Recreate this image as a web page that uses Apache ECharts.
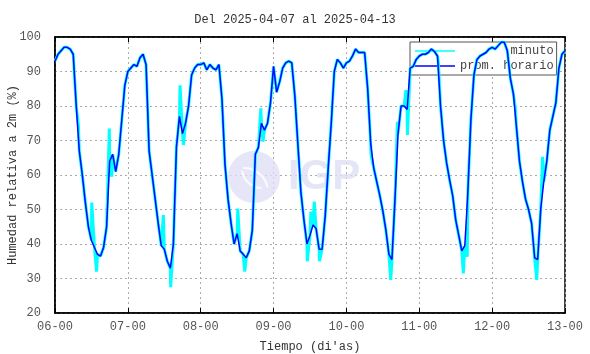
<!DOCTYPE html>
<html>
<head>
<meta charset="utf-8">
<script src="https://cdn.jsdelivr.net/npm/echarts@6/dist/echarts.min.js"></script>
<style>
html, body { margin: 0; padding: 0; background: #fff; }
#chart { width: 590px; height: 354px; }
</style>
</head>
<body>
<div id="chart"></div>
<script>
// etiquetas del eje x (dia-hora)
var dias = ['06-00', '07-00', '08-00', '09-00', '10-00', '11-00', '12-00', '13-00'];

// promedio horario de humedad relativa (%), una lectura por hora desde 06-00
var horario_d1 = [93, 95, 96, 97, 97, 96.5, 95, 80, 67, 60, 52, 45, 41, 39, 37, 36.5, 39, 45, 64, 66, 61, 66, 76, 86];
var horario_d2 = [90, 91, 92, 91.5, 94, 95, 92, 67, 60, 53, 46, 39.5, 38.5, 35, 33, 40, 68, 77, 72, 75, 80, 89, 91, 92];
var horario_d3 = [92, 92.5, 90.5, 92, 91, 90.5, 92, 82, 63, 53, 46, 40, 43, 38, 37, 36, 38, 44, 66, 68, 75, 73, 75, 81];
var horario_d4 = [91.5, 84, 87, 91, 92.5, 93, 92.5, 83, 69, 55, 47, 40, 42.5, 45.5, 44.5, 38.5, 38.5, 48, 62, 75, 90, 93.5, 92.5, 91];
var horario_d5 = [92.5, 93, 94.5, 96.5, 95.5, 95.5, 95.5, 85, 69, 62, 58, 54, 49.5, 44, 37, 35.5, 53, 72, 80, 80, 79, 91, 91.5, 93.5];
var horario_d6 = [94.5, 95, 95, 95.5, 96.5, 95.8, 94.5, 80, 70, 63.5, 58.5, 54, 47, 42.5, 38, 39.5, 55, 76, 89, 93.5, 94.5, 95, 95.5, 96.5];
var horario_d7 = [97, 96.5, 97.5, 98.5, 98.5, 96, 88, 83.5, 74, 64, 58, 53, 50, 46, 36, 35.5, 50, 58, 64, 73, 77, 81, 91, 95, 96];

// picos visibles de la serie por minuto: [hora desde 06-00, valor]
var minuto_picos = [
    [7.7, 74.5], [12.1, 52], [13.7, 32], [17.9, 73.5], [18.7, 59.5],
    [35.7, 48.4], [38.1, 27.5], [41.2, 86], [42.3, 68.7],
    [60.2, 50.3], [62.5, 32], [67.8, 79.3], [68.5, 69.7],
    [83.1, 35], [84.3, 49.4], [85.4, 52.3], [87.1, 35],
    [104.1, 65.8], [110.6, 29.6], [112.8, 75.4], [115.6, 84.6], [116.1, 71.6],
    [126.3, 92.4], [134.5, 31.5], [135.8, 36.3], [151.6, 79.8], [158.7, 29.6], [160.6, 65.3]
];

var horario_todo = [].concat(horario_d1, horario_d2, horario_d3, horario_d4, horario_d5, horario_d6, horario_d7);

var serie_horaria = [];
for (var i = 0; i < horario_todo.length; i++) {
    serie_horaria.push([i, horario_todo[i]]);
}
var serie_minuto = serie_horaria.concat(minuto_picos).sort(function (a, b) { return a[0] - b[0]; });

var fuente = 'Liberation Mono, DejaVu Sans Mono, monospace';

var option = {
    animation: false,
    title: {
        text: 'Del 2025-04-07 al 2025-04-13',
        left: 'center',
        top: 9,
        textStyle: { fontFamily: fuente, fontSize: 12, fontWeight: 'normal', color: '#333' }
    },
    grid: {
        left: 55, right: 25, top: 37, bottom: 41,
        outerBoundsMode: 'none',
        show: true, borderColor: '#000', borderWidth: 1.5
    },
    legend: {
        left: 410, top: 42,
        orient: 'vertical',
        z: 1,
        padding: [3, 3, 3, 5],
        itemGap: 3,
        itemWidth: 40, itemHeight: 1.5,
        icon: 'rect',
        backgroundColor: '#fff',
        borderColor: '#555', borderWidth: 1,
        textStyle: { fontFamily: fuente, fontSize: 12, color: '#444' },
        formatter: function (name) { return name === 'minuto' ? '       minuto' : name; },
        data: ['minuto', 'prom. horario']
    },
    graphic: [
        { type: 'circle', z: 1, shape: { cx: 254, cy: 177, r: 26 }, style: { fill: 'rgba(222,222,246,0.75)' } },
        { type: 'arc', z: 1, shape: { cx: 244, cy: 192, r: 24, startAngle: -1.6, endAngle: -0.2 }, style: { stroke: 'rgba(255,255,255,0.85)', lineWidth: 2, fill: 'none' } },
        { type: 'arc', z: 1, shape: { cx: 262, cy: 168, r: 20, startAngle: 1.6, endAngle: 3.0 }, style: { stroke: 'rgba(255,255,255,0.85)', lineWidth: 2, fill: 'none' } },
        { type: 'text', z: 1, left: 288, top: 156, style: { text: 'IGP', font: 'bold 42px Liberation Sans, Arial', fill: 'rgba(222,222,246,0.8)' } }
    ],
    xAxis: [{
        type: 'value',
        min: 0, max: 168, interval: 24,
        name: "Tiempo (di'as)",
        nameLocation: 'middle',
        nameGap: 28,
        nameMoveOverlap: false,
        nameTextStyle: { fontFamily: fuente, fontSize: 12, color: '#333' },
        axisLine: { show: true, lineStyle: { color: '#000', width: 1.5 } },
        axisTick: { show: true, inside: true, length: 5, lineStyle: { color: '#000' } },
        axisLabel: {
            fontFamily: fuente, fontSize: 12, color: '#555', margin: 8,
            formatter: function (v) { return dias[Math.round(v / 24)]; }
        },
        splitLine: { show: true, lineStyle: { color: '#aaa', type: [2, 3] } }
    }, {
        type: 'value',
        position: 'top',
        min: 0, max: 168, interval: 24,
        axisLine: { show: true, lineStyle: { color: '#000', width: 1.5 } },
        axisTick: { show: true, inside: true, length: 5, lineStyle: { color: '#000' } },
        axisLabel: { show: false },
        splitLine: { show: false }
    }],
    yAxis: {
        type: 'value',
        min: 20, max: 100, interval: 10,
        name: 'Humedad relativa a 2m (%)',
        nameLocation: 'middle',
        nameGap: 36,
        nameMoveOverlap: false,
        nameTextStyle: { fontFamily: fuente, fontSize: 12, color: '#333' },
        axisLine: { show: true, lineStyle: { color: '#000', width: 1.5 } },
        axisTick: { show: false },
        axisLabel: { fontFamily: fuente, fontSize: 12, color: '#555', margin: 14 },
        splitLine: { show: true, lineStyle: { color: '#aaa', type: [2, 3] } }
    },
    series: [{
        name: 'minuto',
        type: 'line',
        z: 2,
        data: serie_minuto,
        showSymbol: false,
        color: '#00ffff',
        lineStyle: { color: '#00ffff', width: 3 }
    }, {
        name: 'prom. horario',
        type: 'line',
        z: 3,
        data: serie_horaria,
        showSymbol: false,
        color: '#0000ff',
        lineStyle: { color: '#0000ff', width: 1.5 }
    }]
};

var grafico = echarts.init(document.getElementById('chart'));
grafico.setOption(option);
</script>
</body>
</html>
